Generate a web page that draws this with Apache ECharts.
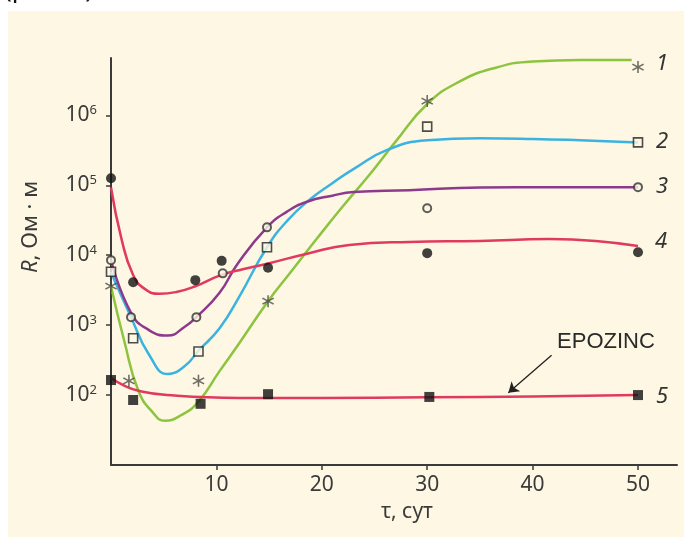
<!DOCTYPE html>
<html>
<head>
<meta charset="utf-8">
<script src="https://cdn.jsdelivr.net/npm/echarts@6/dist/echarts.min.js"></script>
<style>
  html, body { margin: 0; padding: 0; background: #fff; }
  #chart { width: 684px; height: 540px; }
</style>
</head>
<body>
<div id="chart"></div>
<script>
// measured points (tau, days / R, Ohm*m)
const tau1 = [0, 1.7, 8.3, 14.9, 30, 50];
const r1 = [3600, 160, 160, 2200, 1.6e6, 4.9e6];
const tau2 = [0, 2.1, 8.3, 14.8, 30, 50];
const r2 = [5800, 650, 420, 13000, 6.9e5, 4.1e5];
const tau3 = [0, 1.9, 8.1, 10.6, 14.8, 30, 50];
const r3 = [8500, 1300, 1300, 5500, 25000, 47000, 94000];
const tau4 = [0, 2.1, 8.0, 10.5, 14.9, 30, 50];
const r4 = [1.26e5, 4100, 4400, 8300, 6600, 10700, 11000];
const tau5 = [0, 2.1, 8.5, 14.9, 30.2, 50];
const r5 = [164, 85, 75, 103, 94, 100];

// fitted curves
const curveTau1 = [0, 1.3, 2.6, 3.9, 5.1, 6.7, 8.3, 10.3, 12.2, 14.9, 17, 19.5, 22, 24.5, 27, 30, 33, 36.5, 40, 44.5, 49.4];
const curveR1 = [3600, 560, 115, 58, 43, 52, 81, 220, 560, 2200, 5600, 17000, 50000, 140000, 420000, 1.45e6, 3e6, 4.8e6, 5.9e6, 6.2e6, 6.2e6];
const curveTau2 = [0, 1.9, 3.6, 5.4, 7, 8.3, 10.3, 12.2, 14.8, 16.8, 18.9, 21, 23, 26.2, 30, 35, 40, 44.5, 50];
const curveR2 = [5700, 1300, 380, 200, 260, 430, 900, 2600, 13000, 32000, 63000, 107000, 170000, 320000, 440000, 470000, 460000, 440000, 410000];
const curveTau3 = [0, 1.9, 3.6, 5.4, 7, 8.1, 10.3, 12, 14.8, 16.7, 18.6, 21, 23, 28.3, 35, 42, 50];
const curveR3 = [8500, 1500, 850, 710, 950, 1300, 2900, 7500, 25000, 42000, 58000, 71000, 80000, 85000, 93000, 94000, 94000];
const curveTau4 = [0, 1, 2.1, 3.2, 4.6, 6.3, 8, 10.3, 12.5, 14.9, 18.6, 22.6, 28.3, 35, 41.6, 46, 50];
const curveR4 = [93000, 17000, 5200, 3300, 2800, 3000, 3600, 5100, 6300, 7600, 10500, 14000, 15500, 16000, 17000, 16000, 13500];
const curveTau5 = [0, 1.3, 2.6, 5.3, 12.2, 20, 30, 40, 50];
const curveR5 = [175, 135, 115, 100, 91, 91, 93, 95, 100];

// tick labels
const xTicks = [10, 20, 30, 40, 50];
const yTicks = [1e2, 1e3, 1e4, 1e5, 1e6];
const curveNames = ['1', '2', '3', '4', '5'];

const bg = '#fdf7e3';
const green = '#8cc43f';
const blue = '#3ab3e0';
const purple = '#8e3a8c';
const red = '#e03a5e';

const zip = (a, b) => a.map((v, i) => [v, b[i]]);

const asterisk = 'path://M0.12,-1L-0.12,-1L-0.12,1L0.12,1Z' +
  'M0.806,0.604L0.926,0.396L-0.806,-0.604L-0.926,-0.396Z' +
  'M-0.926,0.396L-0.806,0.604L0.926,-0.396L0.806,-0.604Z';

function curve(name, tau, r, color) {
  return {
    name: name, type: 'line', data: zip(tau, r), smooth: 0.5,
    showSymbol: false, z: 2,
    lineStyle: { color: color, width: 2.5 }
  };
}
function points(name, tau, r, symbol, size, itemStyle) {
  return {
    name: name, type: 'scatter', data: zip(tau, r), z: 4,
    symbol: symbol, symbolSize: size, itemStyle: itemStyle
  };
}

const chart = echarts.init(document.getElementById('chart'));

const curve5 = curve('5', curveTau5, curveR5, red);
curve5.markLine = {
  silent: true,
  symbol: ['none', 'arrow'],
  symbolSize: 10,
  label: { show: false },
  lineStyle: { color: '#222', width: 1.3, type: 'solid' },
  data: [[{ coord: [41.8, 370] }, { coord: [37.7, 108] }]]
};

chart.setOption({
  backgroundColor: '#fff',
  animation: false,
  textStyle: { fontFamily: 'Noto Sans' },
  grid: { left: 111, right: 7, top: 58, bottom: 75 },
  xAxis: {
    type: 'value', min: 0, max: 53.7,
    axisLine: { lineStyle: { color: '#3a3a3a', width: 2 } },
    axisTick: { customValues: xTicks, length: 5, lineStyle: { color: '#3a3a3a', width: 1.5 } },
    axisLabel: { customValues: xTicks, margin: 10, fontSize: 21, color: '#3a3a3a' },
    splitLine: { show: false }
  },
  yAxis: {
    type: 'log', logBase: 10, min: 10, max: 6.6e6,
    axisLine: { show: true, lineStyle: { color: '#3a3a3a', width: 2 } },
    axisTick: { show: true, customValues: yTicks, length: 5, lineStyle: { color: '#3a3a3a', width: 1.5 } },
    axisLabel: {
      customValues: yTicks, margin: 14, color: '#3a3a3a',
      formatter: v => '{b|10}{s|' + Math.round(Math.log10(v)) + '}',
      rich: {
        b: { fontSize: 21, color: '#3a3a3a', fontFamily: 'Noto Sans' },
        s: { fontSize: 13, color: '#3a3a3a', fontFamily: 'Noto Sans', verticalAlign: 'top', padding: [0, 0, 10, 0] }
      }
    },
    splitLine: { show: false }
  },
  graphic: [
    { type: 'rect', z: -10, silent: true, shape: { x: 8, y: 11, width: 676, height: 526 }, style: { fill: bg } },
    { type: 'text', x: 4, y: 3, style: { text: '(рис. 3)', font: '26px "Noto Sans"', fill: '#111', textVerticalAlign: 'bottom' } },
    {
      type: 'text', x: 31, y: 227, rotation: Math.PI / 2,
      style: {
        text: '{i|R}, Ом · м', align: 'center', verticalAlign: 'middle',
        font: '22px "Noto Sans"', fill: '#3a3a3a',
        rich: { i: { fontStyle: 'italic', fontSize: 22, fontFamily: 'Noto Sans', fill: '#3a3a3a' } }
      }
    },
    { type: 'text', x: 407, y: 512, style: { text: 'τ, сут', font: '21px "Noto Sans"', fill: '#3a3a3a', align: 'center', verticalAlign: 'middle' } },
    { type: 'text', x: 606, y: 342, style: { text: 'EPOZINC', font: '22px "Liberation Sans"', fill: '#2a2a2a', align: 'center', verticalAlign: 'middle' } },
    { type: 'text', x: 656, y: 64, style: { text: curveNames[0], font: 'italic 22px "Noto Sans"', fill: '#333', verticalAlign: 'middle' } },
    { type: 'text', x: 656, y: 142, style: { text: curveNames[1], font: 'italic 22px "Noto Sans"', fill: '#333', verticalAlign: 'middle' } },
    { type: 'text', x: 656, y: 187, style: { text: curveNames[2], font: 'italic 22px "Noto Sans"', fill: '#333', verticalAlign: 'middle' } },
    { type: 'text', x: 655, y: 242, style: { text: curveNames[3], font: 'italic 22px "Noto Sans"', fill: '#333', verticalAlign: 'middle' } },
    { type: 'text', x: 656, y: 397, style: { text: curveNames[4], font: 'italic 22px "Noto Sans"', fill: '#333', verticalAlign: 'middle' } }
  ],
  series: [
    curve('1', curveTau1, curveR1, green),
    curve('2', curveTau2, curveR2, blue),
    curve('3', curveTau3, curveR3, purple),
    curve('4', curveTau4, curveR4, red),
    curve5,
    points('1', tau1, r1, asterisk, 12, { color: '#4a4a44' }),
    points('2', tau2, r2, 'rect', 9, { color: bg, borderColor: '#222', borderWidth: 1.6 }),
    points('3', tau3, r3, 'circle', 8, { color: bg, borderColor: '#333', borderWidth: 2 }),
    points('4', tau4, r4, 'circle', 10, { color: '#111' }),
    points('5', tau5, r5, 'rect', 10, { color: '#111' })
  ]
});
</script>
</body>
</html>
